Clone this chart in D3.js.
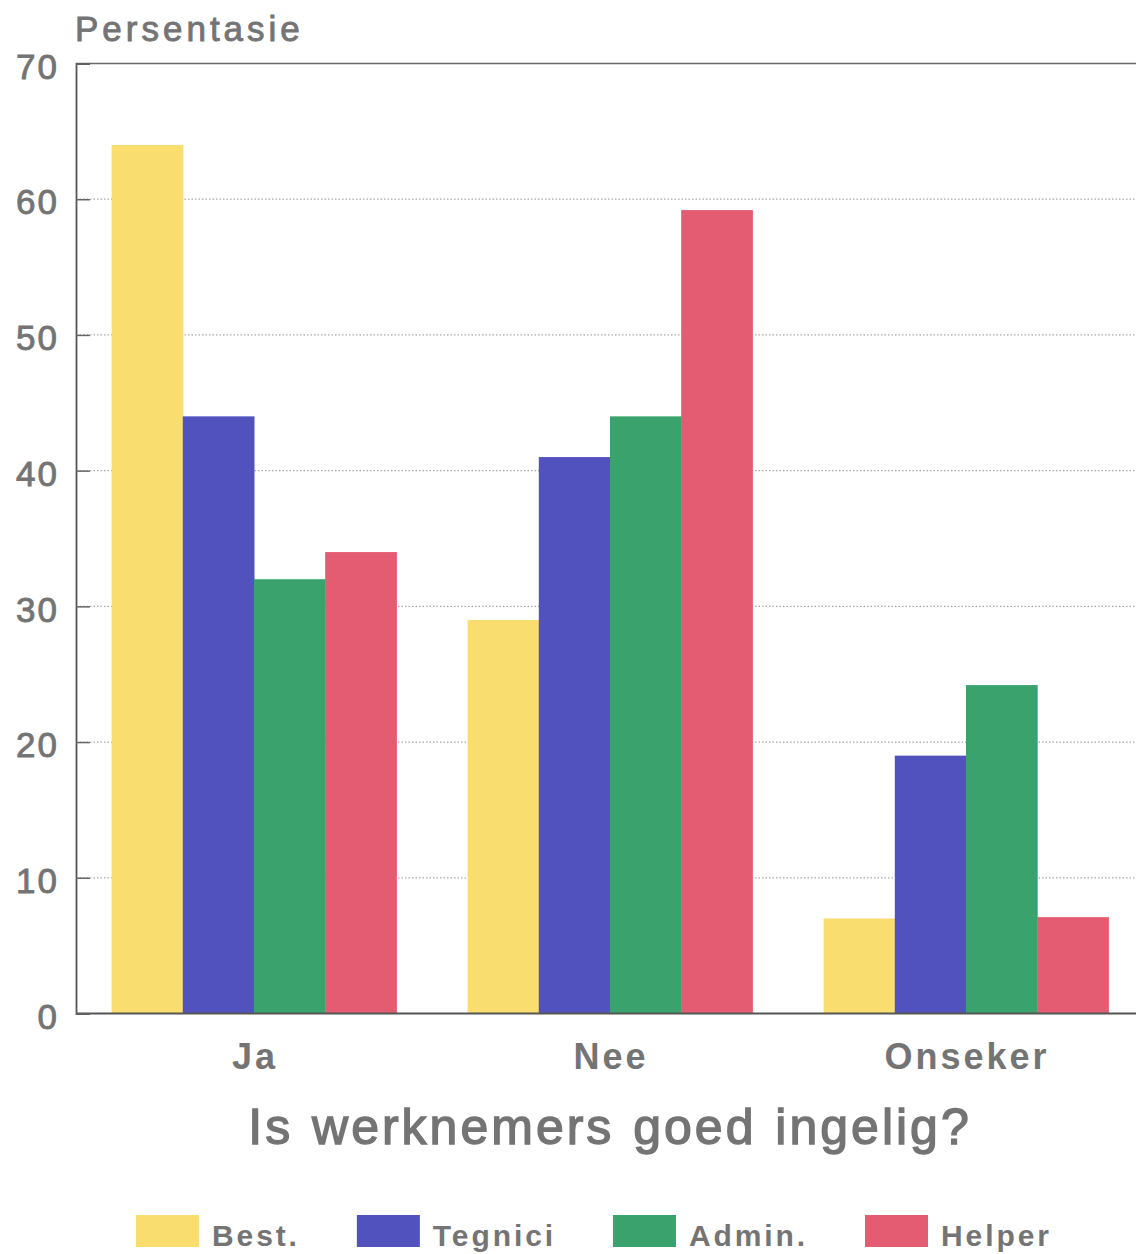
<!DOCTYPE html>
<html>
<head>
<meta charset="utf-8">
<script src="https://cdn.jsdelivr.net/npm/d3@7"></script>
<style>
  html, body { margin: 0; padding: 0; background: #fff; }
  svg { display: block; }
  text { font-family: "Liberation Sans", Arial, sans-serif; fill: #747474; }
</style>
</head>
<body>
<svg id="chart" width="1136" height="1254"></svg>
<script>
// Answers to "Is werknemers goed ingelig?" by staff group (percent)
const categories = ["Ja", "Nee", "Onseker"];
const seriesNames = ["Best.", "Tegnici", "Admin.", "Helper"];
const best    = [64, 29, 7];
const tegnici = [44, 41, 19];
const admin   = [32, 44, 24.2];
const helper  = [34, 59.2, 7.1];
const yTicks  = [0, 10, 20, 30, 40, 50, 60, 70];
const yLabel  = "Persentasie";
const xTitle  = "Is werknemers goed ingelig?";

const seriesValues = [best, tegnici, admin, helper];
const colors = ["#F9DD6F", "#5252BE", "#3AA36D", "#E45C71"];
const textGray = "#747474";

const svg = d3.select("#chart");
const W = 1136;
const plotLeft = 76, plotTop = 63.5, plotBottom = 1013.5;

const y = d3.scaleLinear().domain([0, 70]).range([plotBottom, plotTop]);
const x0 = d3.scaleBand().domain(categories).range([plotLeft, 1144])
  .paddingInner(0.2).paddingOuter(0.1);
const x1 = d3.scaleBand().domain(seriesNames).range([0, x0.bandwidth()]);
const color = d3.scaleOrdinal().domain(seriesNames).range(colors);

// dotted gridlines
svg.append("g")
  .selectAll("line")
  .data(yTicks.filter(d => d > 0 && d < 70))
  .join("line")
  .attr("x1", plotLeft).attr("x2", W)
  .attr("y1", d => y(d)).attr("y2", d => y(d))
  .attr("stroke", "#a8a8a8")
  .attr("stroke-width", 1.2)
  .attr("stroke-dasharray", "1.5,2");

// bars
const rows = categories.map((c, i) => ({
  cat: c,
  vals: seriesNames.map((s, j) => ({ s, v: seriesValues[j][i] }))
}));

svg.append("g")
  .selectAll("g")
  .data(rows)
  .join("g")
  .attr("transform", d => `translate(${x0(d.cat)},0)`)
  .selectAll("rect")
  .data(d => d.vals)
  .join("rect")
  .attr("x", d => x1(d.s))
  .attr("width", x1.bandwidth() + 0.5)
  .attr("y", d => y(d.v))
  .attr("height", d => y(0) - y(d.v))
  .attr("fill", d => color(d.s));

// frame: top line at 70 and bottom baseline
svg.append("line")
  .attr("x1", plotLeft).attr("x2", W).attr("y1", y(70)).attr("y2", y(70))
  .attr("stroke", "#6a6a6a").attr("stroke-width", 1.5);
svg.append("line")
  .attr("x1", plotLeft).attr("x2", W).attr("y1", y(0)).attr("y2", y(0))
  .attr("stroke", "#555").attr("stroke-width", 2);

// y axis with inward ticks
const yAxis = d3.axisLeft(y).tickValues(yTicks).tickSize(-14).tickPadding(17)
  .tickFormat(d3.format("d"));
const gy = svg.append("g").attr("transform", `translate(${plotLeft},0)`).call(yAxis);
gy.select(".domain").attr("stroke", "#555").attr("stroke-width", 1.8);
gy.selectAll(".tick line").attr("stroke", "#666").attr("stroke-width", 1.5);
gy.selectAll(".tick text")
  .attr("font-size", 35)
  .attr("letter-spacing", 2)
  .attr("dy", "0.42em")
  .attr("stroke", textGray)
  .attr("stroke-width", 0.9)
  .style("fill", textGray)
  .style("font-family", "'Liberation Sans', Arial, sans-serif");

// y label
svg.append("text")
  .attr("x", 75).attr("y", 41)
  .attr("font-size", 35)
  .attr("letter-spacing", 4)
  .attr("stroke", textGray)
  .attr("stroke-width", 0.9)
  .text(yLabel);

// category labels
svg.append("g")
  .selectAll("text")
  .data(categories)
  .join("text")
  .attr("x", d => x0(d) + x0.bandwidth() / 2 + 1)
  .attr("y", 1069)
  .attr("text-anchor", "middle")
  .attr("font-size", 36)
  .attr("font-weight", "bold")
  .attr("letter-spacing", 3)
  .text(d => d);

// x title
svg.append("text")
  .attr("x", 610).attr("y", 1144)
  .attr("text-anchor", "middle")
  .attr("font-size", 50)
  .attr("letter-spacing", 3)
  .attr("word-spacing", 2)
  .attr("stroke", textGray)
  .attr("stroke-width", 1.4)
  .text(xTitle);

// legend
const legend = svg.append("g");
let lx = 136;
seriesNames.forEach(s => {
  legend.append("rect")
    .attr("x", lx).attr("y", 1215)
    .attr("width", 63).attr("height", 32)
    .attr("fill", color(s));
  const t = legend.append("text")
    .attr("x", lx + 76).attr("y", 1246)
    .attr("font-size", 30)
    .attr("font-weight", "bold")
    .attr("letter-spacing", 2.9)
    .text(s);
  lx = lx + 76 + t.node().getComputedTextLength() + 57;
});
</script>
</body>
</html>
